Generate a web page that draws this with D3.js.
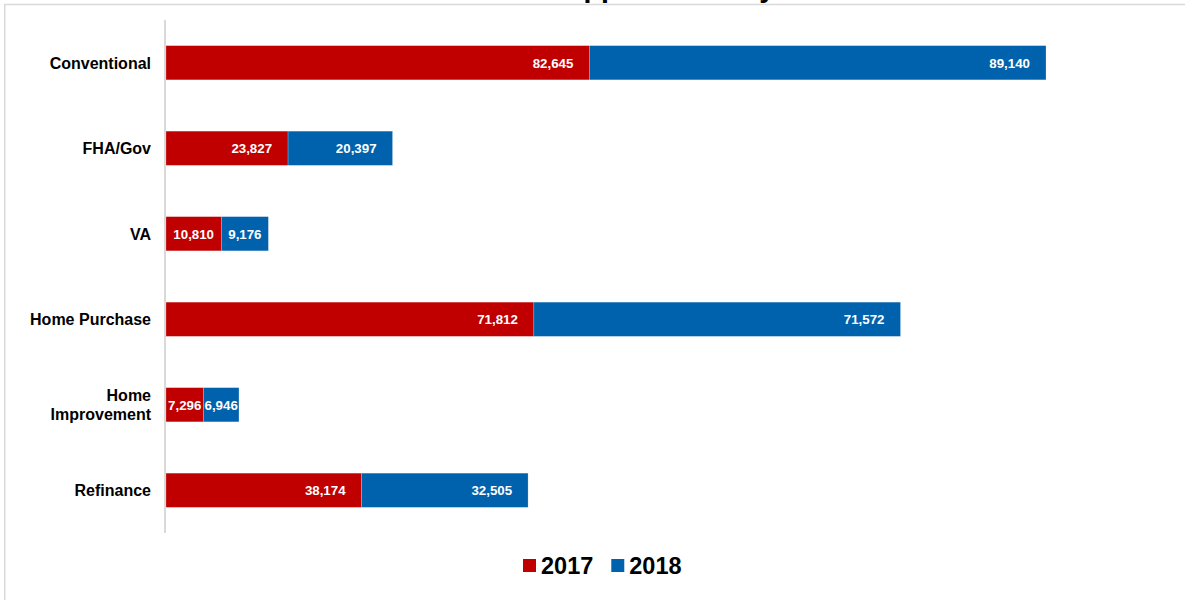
<!DOCTYPE html>
<html>
<head>
<meta charset="utf-8">
<script src="https://cdn.jsdelivr.net/npm/d3@7"></script>
<style>
  html, body { margin: 0; padding: 0; background: #fff; }
  svg { display: block; font-family: "Liberation Sans", Arial, sans-serif; }
</style>
</head>
<body>
<svg id="chart" width="1185" height="600"></svg>
<script>
// Loan applications by category, two years stacked
const categories = ["Conventional", "FHA/Gov", "VA", "Home Purchase", "Home Improvement", "Refinance"];
const values2017 = [82645, 23827, 10810, 71812, 7296, 38174];
const values2018 = [89140, 20397, 9176, 71572, 6946, 32505];
const seriesNames = ["2017", "2018"];
const seriesColors = ["#C00000", "#0062AC"];
const titleText = "Loan Applications by Year";

const svg = d3.select("#chart");
const W = 1185, H = 600;

// Title sits above the visible frame; only its descenders show
svg.append("text")
  .attr("x", 488).attr("y", -3.5)
  .attr("font-size", 28.5).attr("font-weight", "bold")
  .attr("fill", "#000")
  .text(titleText);

// Chart frame
svg.append("rect")
  .attr("x", 4.75).attr("y", 4.5)
  .attr("width", W + 20).attr("height", H + 20)
  .attr("fill", "none").attr("stroke", "#d9d9d9").attr("stroke-width", 1.5);

const rows = categories.map((c, i) => ({ cat: c, v: [values2017[i], values2018[i]] }));

const y = d3.scaleBand()
  .domain(categories)
  .range([20, 533])
  .paddingInner(0.6)
  .paddingOuter(0.3);

const x = d3.scaleLinear()
  .domain([0, 180000])
  .range([166, 166 + 180000 * (880 / 171785)]);

const stack = d3.stack()
  .keys([0, 1])
  .value((d, k) => d.v[k]);
const layers = stack(rows);

// Bars
const g = svg.append("g");
layers.forEach((layer, k) => {
  g.selectAll(null)
    .data(layer)
    .join("rect")
    .attr("x", d => x(d[0]))
    .attr("y", d => y(d.data.cat))
    .attr("width", d => x(d[1]) - x(d[0]))
    .attr("height", y.bandwidth())
    .attr("fill", seriesColors[k])
    .attr("stroke", "rgba(255,255,255,0.35)")
    .attr("stroke-width", 0.6);
});

// Value labels, inside end of each segment
layers.forEach((layer, k) => {
  g.selectAll(null)
    .data(layer)
    .join("text")
    .attr("y", d => y(d.data.cat) + y.bandwidth() / 2)
    .attr("dy", "0.36em")
    .attr("text-anchor", "end")
    .attr("font-size", 13.3)
    .attr("font-weight", "bold")
    .attr("fill", "#fff")
    .text(d => d3.format(",")(d.data.v[k]))
    .each(function (d) {
      const tw = this.getComputedTextLength();
      const w = x(d[1]) - x(d[0]);
      const inset = Math.max(0.5, Math.min(16, (w - tw) / 2));
      d3.select(this).attr("x", x(d[1]) - inset);
    });
});

// Category axis
const yAxis = svg.append("g")
  .attr("transform", "translate(165,0)")
  .call(d3.axisLeft(y).tickSize(0).tickPadding(14).tickFormat(() => ""));
yAxis.select(".domain").remove();
svg.append("line")
  .attr("x1", 165).attr("x2", 165)
  .attr("y1", 20).attr("y2", 533)
  .attr("stroke", "#d9d9d9").attr("stroke-width", 2);

yAxis.selectAll(".tick").each(function (d) {
  const t = d3.select(this).select("text")
    .attr("x", -14)
    .attr("font-size", 16)
    .attr("font-weight", "bold")
    .attr("fill", "#000")
    .attr("font-family", "'Liberation Sans', Arial, sans-serif")
    .attr("text-anchor", "end")
    .attr("dy", null)
    .text(null);
  const words = d === "Home Improvement" ? ["Home", "Improvement"] : [d];
  const lh = 19;
  words.forEach((wd, i) => {
    t.append("tspan")
      .attr("x", -14)
      .attr("y", (i - (words.length - 1) / 2) * lh + 5.8)
      .text(wd);
  });
});

// Legend
const legend = svg.append("g");
let lx = 523;
seriesNames.forEach((name, k) => {
  legend.append("rect")
    .attr("x", lx).attr("y", 559)
    .attr("width", 13).attr("height", 13)
    .attr("fill", seriesColors[k]);
  const t = legend.append("text")
    .attr("x", lx + 18).attr("y", 573.5)
    .attr("font-size", 23.5).attr("font-weight", "bold")
    .attr("fill", "#000")
    .text(name);
  lx += 18 + t.node().getComputedTextLength() + 18;
});
</script>
</body>
</html>
